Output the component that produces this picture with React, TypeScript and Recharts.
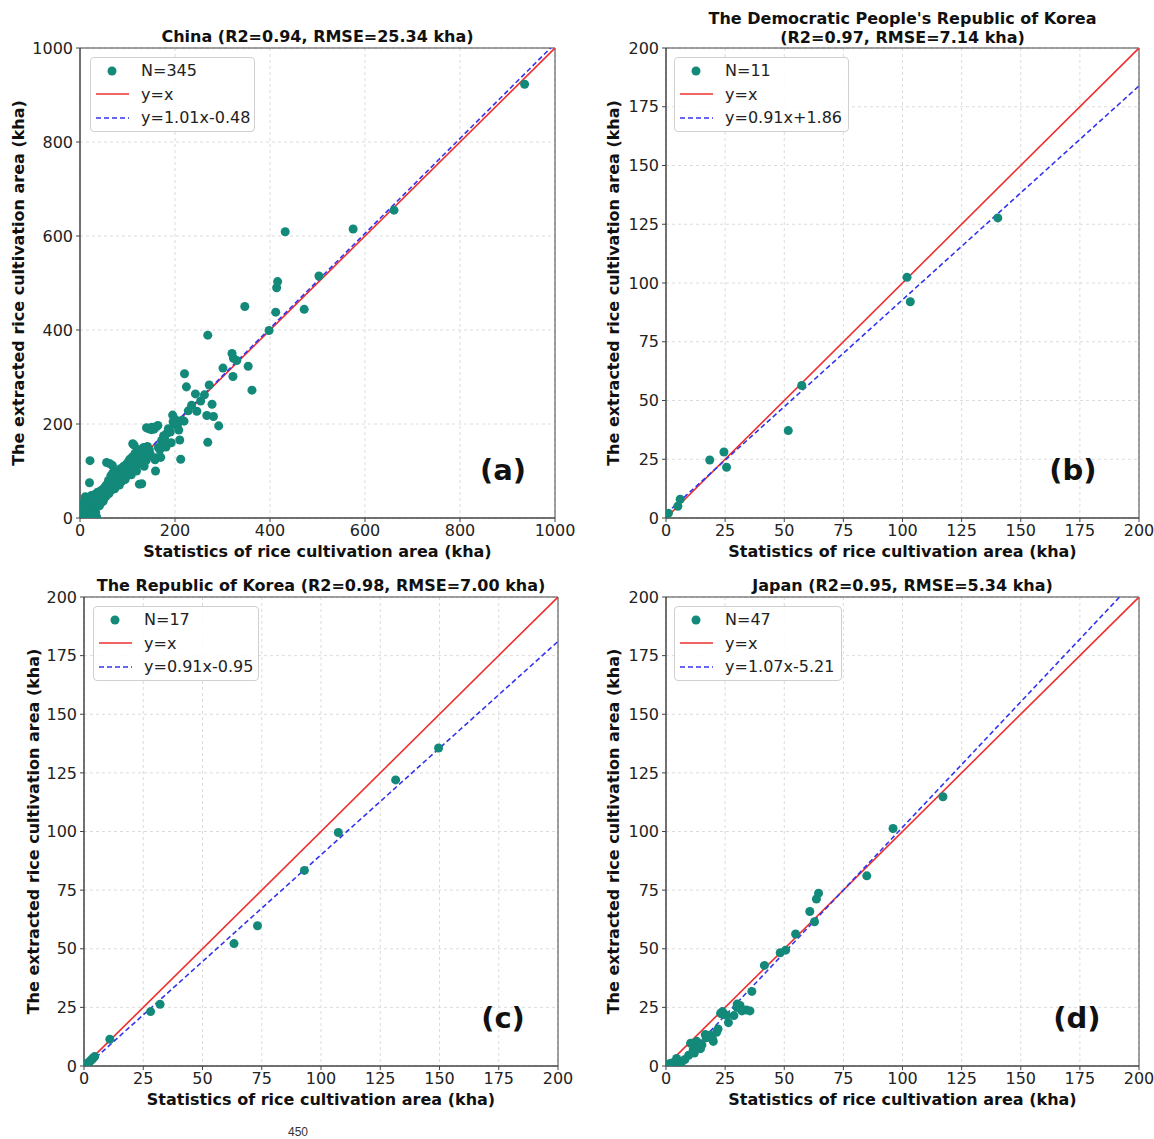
import { ComposedChart, Scatter, Line, XAxis, YAxis, CartesianGrid, ReferenceArea, Legend } from 'recharts';

// ---- data ----
const chinaPoints = [
  [2, 5], [3, 12], [4, 2], [5, 20], [6, 8], [7, 30], [8, 3], [9, 35], [10, 15], [11, 45], [12, 6], [13, 25],
  [14, 18], [15, 40], [16, 10], [17, 28], [18, 2], [19, 22], [20, 75], [21, 122], [22, 34], [23, 14], [24, 48],
  [25, 30], [26, 8], [27, 38], [28, 20], [29, 42], [30, 25], [31, 50], [32, 33], [33, 12], [34, 44], [35, 28],
  [36, 38], [37, 55], [38, 30], [39, 46], [40, 35], [41, 26], [42, 52], [43, 40], [44, 58], [45, 33], [46, 48],
  [47, 60], [48, 42], [49, 36], [50, 55], [28, 1], [35, 2], [25, 2], [30, 3],
  [52, 65], [54, 45], [55, 70], [56, 118], [57, 50], [58, 62], [60, 80], [61, 52], [62, 116], [63, 68], [64, 58],
  [65, 90], [66, 75], [67, 60], [68, 112], [69, 96], [70, 70], [72, 85], [73, 62], [74, 78], [75, 100], [76, 68],
  [78, 88], [79, 72], [80, 95], [82, 80], [83, 70], [85, 105], [86, 90], [88, 78], [89, 100], [90, 85], [92, 110],
  [93, 95], [95, 82], [96, 104], [98, 115], [99, 90], [100, 105],
  [102, 120], [103, 98], [105, 125], [106, 110], [108, 92], [110, 130], [111, 158], [112, 118], [114, 155],
  [115, 105], [116, 138], [118, 125], [119, 100], [120, 140], [122, 115], [124, 132], [125, 72], [126, 145],
  [128, 120], [130, 73], [131, 127], [132, 138], [134, 150], [135, 110], [137, 140], [139, 122], [140, 192],
  [142, 152], [143, 130], [145, 190], [146, 145], [148, 135], [150, 188],
  [151, 193], [156, 189], [158, 124], [159, 100], [160, 128], [162, 195], [164, 197], [165, 150], [168, 145],
  [170, 129], [172, 165], [174, 162], [176, 175], [178, 170], [181, 151], [183, 180], [186, 190], [190, 183],
  [192, 160], [195, 219], [196, 205], [198, 200], [200, 210], [205, 195], [208, 187], [210, 166], [212, 125],
  [215, 208], [219, 206],
  [220, 307], [224, 279], [228, 228], [235, 240], [243, 264], [246, 227], [254, 249], [262, 262], [267, 218],
  [269, 161], [269, 389], [272, 283], [278, 242], [281, 216], [292, 196], [301, 319], [320, 350], [322, 301],
  [323, 340], [330, 335], [347, 450], [354, 323], [362, 272], [398, 399], [412, 438], [414, 490], [416, 503],
  [432, 609], [472, 444], [503, 515], [575, 615], [661, 655], [936, 923],
];

const dprkPoints = [
  [1, 2], [5, 5], [6, 8], [18.5, 24.7], [24.5, 28.1], [25.6, 21.6], [51.7, 37.2], [57.4, 56.4],
  [101.9, 102.4], [103.3, 92], [140.3, 127.7],
];

const rokPoints = [
  [1, 1], [1.5, 0.5], [2, 1.5], [2.5, 2], [3, 2.5], [3.5, 3], [4, 3.5], [4.5, 4], [10.9, 11.4], [28.1, 23.2],
  [32.1, 26.3], [63.3, 52.2], [73.2, 59.8], [93, 83.4], [107.3, 99.6], [131.5, 122], [149.6, 135.6],
];

const japanPoints = [
  [0.3, 0.3], [1.1, 0.8], [2.2, 1.2], [3.9, 1.9], [4.5, 3.2], [5, 2.3], [6.5, 1.5], [8, 2.8], [9.6, 4.6],
  [10.4, 9.7], [11.5, 6.8], [12, 5.5], [12.4, 9.9], [13, 10.5], [14.6, 7.4], [15.2, 9], [16.6, 13.4], [17, 12],
  [18.6, 13.1], [19.7, 11.4], [20, 10.5], [21.4, 14.4], [22, 15.8], [23.1, 22.5], [23.9, 23.2], [24, 22],
  [25.6, 21.6], [26.4, 18.5], [28.7, 21.5], [30, 25], [30.1, 26.4], [31.3, 25.8], [32.1, 23.5], [34, 23.9],
  [35.5, 23.5], [36.3, 31.8], [41.6, 42.9], [48.3, 48.3], [50.6, 49.4], [54.8, 56.3], [60.8, 65.9], [62.8, 61.5],
  [63.6, 71.2], [64.5, 73.7], [84.9, 81.1], [96, 101.3], [117.1, 114.8],
];

const chinaTicks = [0, 200, 400, 600, 800, 1000];
const koreaTicks = [0, 25, 50, 75, 100, 125, 150, 175, 200];

// slope, intercept of the fitted lines
const chinaFit = [1.01, -0.48];
const dprkFit = [0.91, 1.86];
const rokFit = [0.91, -0.95];
const japanFit = [1.07, -5.21];

const TEAL = '#13897a';
const RED = '#ee2f2f';
const BLUE = '#3434ee';
const FONT = "'DejaVu Sans', sans-serif";

const panels = [
  {
    title: ['China (R2=0.94, RMSE=25.34 kha)'], titleY: 36, letter: '(a)', letterPos: [503, 470],
    chart: { left: 0, top: 0, width: 577, height: 570 }, plot: { left: 80, top: 48, right: 555, bottom: 518 },
    max: 1000, ticks: chinaTicks, points: chinaPoints, fit: chinaFit, n: 345, yLabelX: 18,
    legend: { left: 90, top: 57, width: 165 },
  },
  {
    title: ["The Democratic People's Republic of Korea", '(R2=0.97, RMSE=7.14 kha)'], titleY: 27.5, letter: '(b)', letterPos: [1073, 470],
    chart: { left: 577, top: 0, width: 577, height: 570 }, plot: { left: 666, top: 48, right: 1139, bottom: 518 },
    max: 200, ticks: koreaTicks, points: dprkPoints, fit: dprkFit, n: 11, yLabelX: 613,
    legend: { left: 674, top: 57, width: 175 },
  },
  {
    title: ['The Republic of Korea (R2=0.98, RMSE=7.00 kha)'], titleY: 585, letter: '(c)', letterPos: [503, 1018],
    chart: { left: 0, top: 570, width: 577, height: 569 }, plot: { left: 84, top: 597, right: 558, bottom: 1066 },
    max: 200, ticks: koreaTicks, points: rokPoints, fit: rokFit, n: 17, yLabelX: 33,
    legend: { left: 93, top: 606, width: 166 },
  },
  {
    title: ['Japan (R2=0.95, RMSE=5.34 kha)'], titleY: 585, letter: '(d)', letterPos: [1077, 1018],
    chart: { left: 577, top: 570, width: 577, height: 569 }, plot: { left: 666, top: 597, right: 1139, bottom: 1066 },
    max: 200, ticks: koreaTicks, points: japanPoints, fit: japanFit, n: 47, yLabelX: 613,
    legend: { left: 674, top: 606, width: 168 },
  },
];

const YW = 60;
const XH = 45;

function LegendBox({ n, fit, width }: any) {
  const [m, b] = fit;
  const fitText = `y=${m.toFixed(2)}x${b < 0 ? '-' : '+'}${Math.abs(b).toFixed(2)}`;
  const rows = [
    { icon: <circle cx={21} cy={12} r={4.5} fill={TEAL} />, text: `N=${n}` },
    { icon: <line x1={5} x2={38} y1={12} y2={12} stroke={RED} strokeWidth={1.6} />, text: 'y=x' },
    { icon: <line x1={5} x2={38} y1={12} y2={12} stroke={BLUE} strokeWidth={1.6} strokeDasharray="5 3" />, text: fitText },
  ];
  return (
    <div style={{ width, height: 75, boxSizing: 'border-box', border: '1px solid #d0d0d0', borderRadius: 4, background: 'rgba(255,255,255,0.85)', paddingTop: 1 }}>
      {rows.map((r, i) => (
        <div key={i} style={{ display: 'flex', alignItems: 'center', height: 23.5 }}>
          <svg width={50} height={24} style={{ flex: 'none' }}>{r.icon}</svg>
          <span style={{ fontFamily: FONT, fontSize: 16, color: '#222', whiteSpace: 'nowrap' }}>{r.text}</span>
        </div>
      ))}
    </div>
  );
}

function Panel({ cfg }: any) {
  const { chart, plot, max, ticks, points, fit, n, legend, title, titleY, letter, letterPos, yLabelX } = cfg;
  const margin = {
    top: plot.top - chart.top,
    left: plot.left - chart.left - YW,
    right: chart.left + chart.width - plot.right,
    bottom: chart.top + chart.height - plot.bottom - XH,
  };
  const pts = points.map(([x, y]: number[]) => ({ x, y }));
  const identity = [{ x: 0, y: 0 }, { x: max, y: max }];
  const fitLine = [{ x: 0, y: fit[1] }, { x: max, y: fit[0] * max + fit[1] }];
  const tickStyle = { fill: '#222', fontSize: 16, fontFamily: FONT };
  const labelStyle = { fontFamily: FONT, fontSize: 16, fontWeight: 700, fill: '#111' };
  const plotW = plot.right - plot.left;

  return (
    <div style={{ position: 'absolute', left: chart.left, top: chart.top, width: chart.width, height: chart.height }}>
      <ComposedChart width={chart.width} height={chart.height} margin={margin}>
        <CartesianGrid stroke="#dcdcdc" strokeDasharray="3 3" />
        <XAxis
          type="number" dataKey="x" domain={[0, max]} ticks={ticks} allowDataOverflow height={XH}
          tick={tickStyle} tickSize={4} tickMargin={3} axisLine={{ stroke: '#444' }} tickLine={{ stroke: '#444' }}
          label={{
            content: (p: any) => (
              <text x={p.viewBox.x + p.viewBox.width / 2} y={p.viewBox.y + 39} textAnchor="middle" style={labelStyle}>
                Statistics of rice cultivation area (kha)
              </text>
            ),
          }}
        />
        <YAxis
          type="number" dataKey="y" domain={[0, max]} ticks={ticks} allowDataOverflow width={YW}
          tick={tickStyle} tickSize={4} tickMargin={3} axisLine={{ stroke: '#444' }} tickLine={{ stroke: '#444' }}
          label={{
            content: (p: any) => {
              const x = yLabelX - chart.left;
              const y = p.viewBox.y + p.viewBox.height / 2;
              return (
                <text x={x} y={y} transform={`rotate(-90, ${x}, ${y})`} textAnchor="middle" dominantBaseline="central" style={labelStyle}>
                  The extracted rice cultivation area (kha)
                </text>
              );
            },
          }}
        />
        <Scatter data={pts} dataKey="y" fill={TEAL} isAnimationActive={false} legendType="none" />
        <Line data={identity} dataKey="y" stroke={RED} strokeWidth={1.6} dot={false} activeDot={false} isAnimationActive={false} legendType="none" />
        <Line data={fitLine} dataKey="y" stroke={BLUE} strokeWidth={1.6} strokeDasharray="5 3" dot={false} activeDot={false} isAnimationActive={false} legendType="none" />
        <ReferenceArea x1={0} x2={max} y1={0} y2={max} fill="none" stroke="#444" strokeWidth={1} ifOverflow="visible" />
        <Legend
          verticalAlign="middle" align="center"
          wrapperStyle={{ left: legend.left - chart.left, top: legend.top - chart.top, width: legend.width, height: 75 }}
          content={() => <LegendBox n={n} fit={fit} width={legend.width} />}
        />
      </ComposedChart>
      <div style={{ position: 'absolute', left: plot.left - chart.left - 20, width: plotW + 40, top: titleY - chart.top - (title.length * 19) / 2, textAlign: 'center', fontFamily: FONT, fontWeight: 700, fontSize: 16, lineHeight: '19px', color: '#111', whiteSpace: 'nowrap' }}>
        {title.map((t: string, i: number) => <div key={i}>{t}</div>)}
      </div>
      <div style={{ position: 'absolute', left: letterPos[0] - chart.left, top: letterPos[1] - chart.top, transform: 'translate(-50%, -50%)', fontFamily: FONT, fontWeight: 700, fontSize: 29, lineHeight: 1, color: '#111' }}>
        {letter}
      </div>
    </div>
  );
}

export default function App() {
  return (
    <div style={{ position: 'absolute', left: 0, top: 0, width: 1154, height: 1139, background: '#fff', overflow: 'hidden' }}>
      {panels.map((p, i) => <Panel key={i} cfg={p} />)}
      <div style={{ position: 'absolute', left: 288, top: 1125, fontFamily: "'Liberation Sans', Arial, sans-serif", fontSize: 12, color: '#333' }}>450</div>
    </div>
  );
}
